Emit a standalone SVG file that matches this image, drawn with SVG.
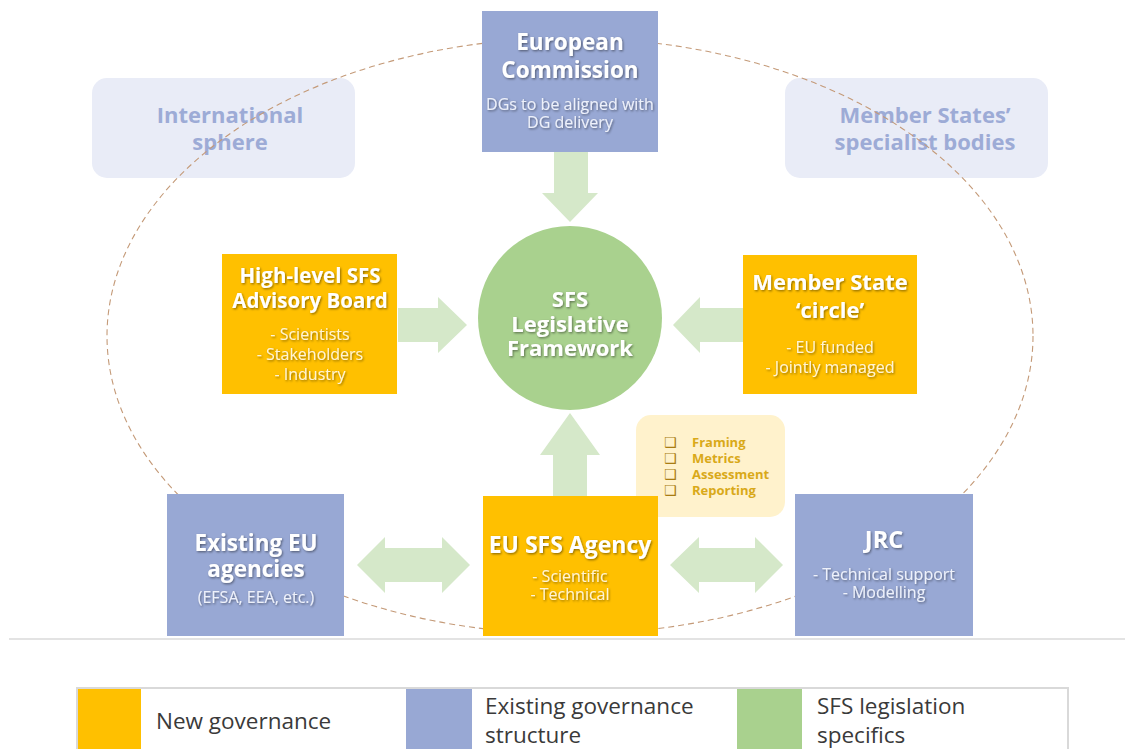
<svg xmlns="http://www.w3.org/2000/svg" width="1125" height="749" viewBox="0 0 1125 749">
  <defs>
    <filter id="txtShadow" x="-10%" y="-30%" width="120%" height="160%">
      <feDropShadow dx="1" dy="1.2" stdDeviation="0.9" flood-color="#000000" flood-opacity="0.45"/>
    </filter>
  </defs>
  <style>
    .title { font-family: "Open Sans", "Noto Sans", sans-serif; font-weight: 700; fill: #FFFFFF; text-anchor: middle; filter: url(#txtShadow); }
    .sub { font-family: "Open Sans", "Noto Sans", sans-serif; font-weight: 400; font-size: 16px; text-anchor: middle; filter: url(#txtShadow); }
    .sub-y { fill: #FFF4D6; }
    .sub-b { fill: #EEF1FA; }
    .new { fill: #FFC000; }
    .old { fill: #98A8D4; }
    .spec { fill: #A9D18E; }
    .sphere { fill: #E9ECF7; }
    .sphere-t { font-family: "Open Sans", "Noto Sans", sans-serif; font-weight: 700; font-size: 22px; fill: #9DABD6; text-anchor: middle; }
    .flow { fill: #D5E8C9; }
    .orbit { fill: none; stroke: #C49A78; stroke-width: 1.1; stroke-dasharray: 6 4; }
    .check { font-family: "Open Sans", "Noto Sans", sans-serif; font-weight: 700; font-size: 13px; fill: #D9A919; }
    .box-glyph { font-family: "DejaVu Sans", sans-serif; font-size: 14px; fill: #A87C12; }
    .legend-t { font-family: "Open Sans", "Noto Sans", sans-serif; font-weight: 400; font-size: 22.5px; fill: #3A3A3A; }
  </style>

  <rect width="1125" height="749" fill="#FFFFFF"/>

  <!-- outer spheres -->
  <g id="international-sphere">
    <rect class="sphere" x="92" y="78" width="263" height="100" rx="15"/>
    <text class="sphere-t" x="230" y="123">International</text>
    <text class="sphere-t" x="230" y="150">sphere</text>
  </g>
  <g id="member-states-bodies">
    <rect class="sphere" x="785" y="78" width="263" height="100" rx="15"/>
    <text class="sphere-t" x="925" y="123">Member States’</text>
    <text class="sphere-t" x="925" y="150">specialist bodies</text>
  </g>

  <!-- dashed governance boundary -->
  <g id="boundary">
    <ellipse class="orbit" cx="570" cy="336" rx="463" ry="298"/>
  </g>

  <!-- flow arrows -->
  <g id="connectors">
    <polygon class="flow" points="554,152 588,152 588,193 598,193 570,222 542,193 554,193"/>
    <polygon class="flow" points="398,308 438,308 438,297 467,325 438,353 438,342 398,342"/>
    <polygon class="flow" points="743,308 700,308 700,297 673,325 700,353 700,342 743,342"/>
    <polygon class="flow" points="553,496 553,455 540,455 570,413 600,455 587,455 587,496"/>
    <polygon class="flow" points="357,565 385,537 385,548 442,548 442,537 470,565 442,593 442,582 385,582 385,593"/>
    <polygon class="flow" points="670,565 699,537 699,548 755,548 755,537 783,565 755,593 755,582 699,582 699,593"/>
  </g>

  <g id="european-commission">
    <rect class="old" x="482" y="11" width="176" height="141"/>
    <text class="title" x="570" y="50" font-size="22.5">European</text>
    <text class="title" x="570" y="78" font-size="22.5">Commission</text>
    <text class="sub sub-b" x="570" y="110">DGs to be aligned with</text>
    <text class="sub sub-b" x="570" y="128">DG delivery</text>
  </g>

  <g id="sfs-framework">
    <circle class="spec" cx="570" cy="318" r="92"/>
    <text class="title" x="570" y="307" font-size="22">SFS</text>
    <text class="title" x="570" y="332" font-size="22">Legislative</text>
    <text class="title" x="570" y="356" font-size="22">Framework</text>
  </g>

  <g id="advisory-board">
    <rect class="new" x="222" y="254" width="175" height="140"/>
    <text class="title" x="310" y="283" font-size="20.5">High-level SFS</text>
    <text class="title" x="310" y="308" font-size="20.5">Advisory Board</text>
    <text class="sub sub-y" x="310" y="340">- Scientists</text>
    <text class="sub sub-y" x="310" y="360">- Stakeholders</text>
    <text class="sub sub-y" x="310" y="380">- Industry</text>
  </g>

  <g id="member-state-circle">
    <rect class="new" x="743" y="255" width="174" height="139"/>
    <text class="title" x="830" y="290" font-size="22">Member State</text>
    <text class="title" x="830" y="318" font-size="22">‘circle’</text>
    <text class="sub sub-y" x="830" y="353">- EU funded</text>
    <text class="sub sub-y" x="830" y="373">- Jointly managed</text>
  </g>

  <g id="agency-tasks">
    <rect x="636" y="415" width="149" height="102" rx="15" fill="#FFF2CC"/>
    <text class="box-glyph" x="664" y="447">❑</text>
    <text class="box-glyph" x="664" y="463">❑</text>
    <text class="box-glyph" x="664" y="479">❑</text>
    <text class="box-glyph" x="664" y="495">❑</text>
    <text class="check" x="692" y="447">Framing</text>
    <text class="check" x="692" y="463">Metrics</text>
    <text class="check" x="692" y="479">Assessment</text>
    <text class="check" x="692" y="495">Reporting</text>
  </g>

  <g id="existing-agencies">
    <rect class="old" x="167" y="494" width="177" height="142"/>
    <text class="title" x="256" y="551" font-size="22.5">Existing EU</text>
    <text class="title" x="256" y="577" font-size="22.5">agencies</text>
    <text class="sub sub-b" x="256" y="603" font-size="13.5">(EFSA, EEA, etc.)</text>
  </g>

  <g id="sfs-agency">
    <rect class="new" x="483" y="496" width="175" height="140"/>
    <text class="title" x="570" y="553" font-size="23">EU SFS Agency</text>
    <text class="sub sub-y" x="570" y="582">- Scientific</text>
    <text class="sub sub-y" x="570" y="600">- Technical</text>
  </g>

  <g id="jrc">
    <rect class="old" x="795" y="494" width="178" height="142"/>
    <text class="title" x="884" y="548" font-size="23.5">JRC</text>
    <text class="sub sub-b" x="884" y="580">- Technical support</text>
    <text class="sub sub-b" x="884" y="598">- Modelling</text>
  </g>

  <!-- separator -->
  <line x1="9" y1="639" x2="1125" y2="639" stroke="#E3E3E3" stroke-width="2"/>

  <!-- legend -->
  <g id="legend">
    <rect x="77" y="688" width="991" height="70" fill="#FFFFFF" stroke="#D9D9D9" stroke-width="2"/>
    <rect class="new" x="78" y="689" width="63" height="69"/>
    <text class="legend-t" x="156" y="729">New governance</text>
    <rect class="old" x="406" y="689" width="66" height="69"/>
    <text class="legend-t" x="485" y="714">Existing governance</text>
    <text class="legend-t" x="485" y="743">structure</text>
    <rect class="spec" x="737" y="689" width="65" height="69"/>
    <text class="legend-t" x="817" y="714">SFS legislation</text>
    <text class="legend-t" x="817" y="743">specifics</text>
  </g>
</svg>
